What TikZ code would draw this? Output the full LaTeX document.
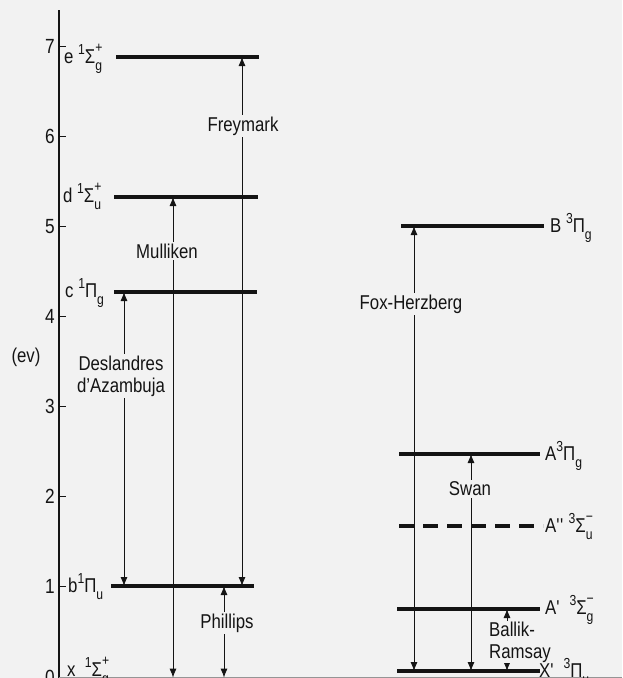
\documentclass[tikz,border=0pt]{standalone}
\usepackage{fontspec}
\setmainfont{Liberation Sans}[FakeStretch=0.84]
\usetikzlibrary{arrows.meta}
\definecolor{bg}{RGB}{242,242,242}
\definecolor{ink}{RGB}{20,20,20}
\newcommand\smalltxt{\fontsize{14.5}{14.5}\selectfont}
\newcommand\pre[1]{\raisebox{0.8ex}{\smalltxt #1}}
\newcommand\ssb[2]{\makebox[0pt][l]{\raisebox{0.95ex}{\smalltxt #2}}\raisebox{-0.7ex}{\smalltxt #1}}
\newcommand\prm{\textquotesingle}
\begin{document}
\begin{tikzpicture}[x=1pt,y=-1pt,
  every node/.style={text=ink},
  lvl/.style={draw=ink,line width=3.1pt},
  tr/.style={draw=ink,line width=0.8pt,{Latex[length=9pt,width=7pt]}-{Latex[length=9pt,width=7pt]}},
  lab/.style={fill=bg,inner sep=2pt,font=\fontsize{20}{22}\selectfont,align=center},
  st/.style={inner sep=0pt,anchor=base west,font=\fontsize{20}{22}\selectfont},
  num/.style={inner sep=0pt,anchor=east,font=\fontsize{20.5}{22}\selectfont}]
\fill[bg] (0,0) rectangle (622,678);
\clip (0,0) rectangle (622,678);
\useasboundingbox (0,0) rectangle (622,678);
% axis
\draw[ink,line width=1.2pt] (59,10) -- (59,680);
\foreach \v in {0,...,7}{
  \draw[ink,line width=1pt] (59,677-90.1*\v) -- ++(7,0);
  \node[num] (t\v) at (55,677-90.1*\v) {\v};
}
\node[inner sep=0pt,font=\fontsize{20}{22}\selectfont] (ev) at (26,357) {(ev)};
% singlet levels
\coordinate (e) at (116,57);  \coordinate (eR) at (259,57);
\coordinate (d) at (114,197); \coordinate (dR) at (258,197);
\coordinate (c) at (114,292); \coordinate (cR) at (257,292);
\coordinate (b) at (111,586); \coordinate (bR) at (254,586);
\coordinate (x) at (59,677.6);  \coordinate (xR) at (622,677.6);
\draw[lvl] (e) -- (eR);
\draw[lvl] (d) -- (dR);
\draw[lvl] (c) -- (cR);
\draw[lvl] (b) -- (bR);
\draw[draw=ink!45,line width=1pt] (x) -- (xR);
% triplet levels
\coordinate (B) at (401,226);  \coordinate (BR) at (544,226);
\coordinate (A) at (399,454);  \coordinate (AR) at (540,454);
\coordinate (A2) at (399,526); \coordinate (A2R) at (543,526);
\coordinate (A1) at (397,609); \coordinate (A1R) at (540,609);
\coordinate (X) at (397,671);  \coordinate (XR) at (540,671);
\draw[lvl] (B) -- (BR);
\draw[lvl] (A) -- (AR);
\draw[lvl,dash pattern=on 15pt off 9pt] (A2) -- (A2R);
\draw[lvl] (A1) -- (A1R);
\draw[lvl] (X) -- (XR);
% level labels
\node[st] (le) at (64,63) {e \pre{1}Σ\ssb{g}{+}};
\node[st] (ld) at (63,202) {d \pre{1}Σ\ssb{u}{+}};
\node[st] (lc) at (65,297) {c \pre{1}Π\ssb{g}{}};
\node[st] (lb) at (68,592) {b\pre{1}Π\ssb{u}{}};
\node[st] (lx) at (67,676) {x\ \ \pre{1}Σ\ssb{g}{+}};
\node[st] (lB) at (550,232) {B \pre{3}Π\ssb{g}{}};
\node[st] (lA) at (545,460) {A\pre{3}Π\ssb{g}{}};
\node[st] (lA2) at (545,532) {A\prm\prm\ \pre{3}Σ\ssb{u}{−}};
\node[st] (lA1) at (545,614) {A\prm\ \ \pre{3}Σ\ssb{g}{−}};
\node[st] (lX) at (539,677) {X\prm\ \ \pre{3}Π\ssb{u}{}};
% transition x positions
\coordinate (xDes) at (124,0);
\coordinate (xMul) at (173,0);
\coordinate (xPhi) at (224,0);
\coordinate (xFre) at (242,0);
\coordinate (xFox) at (414,0);
\coordinate (xSwa) at (471,0);
\coordinate (xBal) at (507,0);
% transitions
\draw[tr] (xDes |- b) -- (xDes |- c);
\draw[tr] (xMul |- x) -- (xMul |- d);
\draw[tr] (xPhi |- x) -- (xPhi |- b);
\draw[tr] (xFre |- b) -- (xFre |- e);
\draw[tr] (xFox |- X) -- (xFox |- B);
\draw[tr] (xSwa |- X) -- (xSwa |- A);
\draw[tr] (xBal |- X) -- (xBal |- A1);
% transition labels
\node[lab] (nDes) at (121,376) {Deslandres\\d’Azambuja};
\node[lab] (nMul) at (167,251) {Mulliken};
\node[lab] (nFre) at (243,126) {Freymark};
\node[lab] (nPhi) at (227,623) {Phillips};
\node[lab] (nFox) at (411,304) {Fox-Herzberg};
\node[lab] (nSwa) at (470,489) {Swan};
\node[lab,align=left,anchor=west,inner sep=1pt] (nBal) at (488,642) {Ballik-\\Ramsay};
\end{tikzpicture}
\end{document}
